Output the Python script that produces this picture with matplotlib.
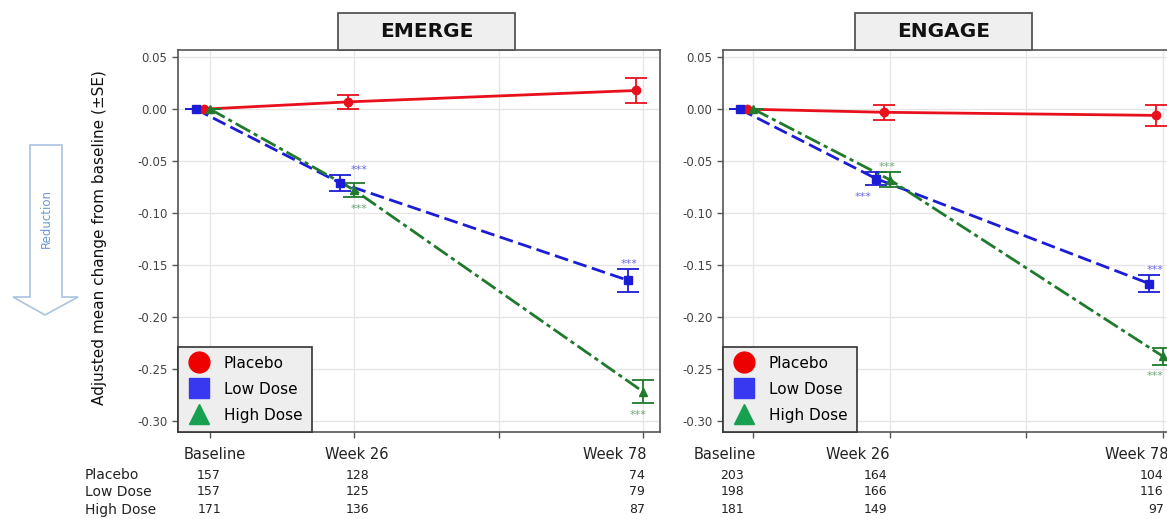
import matplotlib
matplotlib.use("Agg")
import matplotlib.pyplot as plt
from matplotlib.lines import Line2D
from matplotlib.patches import Rectangle, Polygon
import matplotlib.transforms as mtransforms

plt.rcParams["font.family"] = ["DejaVu Sans"]
plt.rcParams["axes.unicode_minus"] = False

# visits (weeks) and group labels
weeks = [0, 26, 78]
groups = ["Placebo", "Low Dose", "High Dose"]

# adjusted mean change from baseline and SE
emerge_mean = {
    "Placebo": [0.0, 0.007, 0.018],
    "Low Dose": [0.0, -0.071, -0.165],
    "High Dose": [0.0, -0.078, -0.272],
}
emerge_se = {
    "Placebo": [0.0, 0.007, 0.012],
    "Low Dose": [0.0, 0.008, 0.011],
    "High Dose": [0.0, 0.007, 0.011],
}
engage_mean = {
    "Placebo": [0.0, -0.003, -0.006],
    "Low Dose": [0.0, -0.067, -0.168],
    "High Dose": [0.0, -0.068, -0.238],
}
engage_se = {
    "Placebo": [0.0, 0.007, 0.010],
    "Low Dose": [0.0, 0.006, 0.008],
    "High Dose": [0.0, 0.007, 0.008],
}

# number of patients at each visit
emerge_n = {"Placebo": [157, 128, 74], "Low Dose": [157, 125, 79], "High Dose": [171, 136, 87]}
engage_n = {"Placebo": [203, 164, 104], "Low Dose": [198, 166, 116], "High Dose": [181, 149, 97]}

# significance markers: (group, visit index, above/below, x in weeks)
emerge_sig = [("Low Dose", 1, "above", 26.8), ("High Dose", 1, "below", 26.8),
              ("Low Dose", 2, "above", 75.6), ("High Dose", 2, "below", 77.2)]
engage_sig = [("High Dose", 1, "above", 25.4), ("Low Dose", 1, "below", 20.9),
              ("Low Dose", 2, "above", 76.5), ("High Dose", 2, "below", 76.5)]

style = {
    "Placebo": dict(color="#e8101c", ls="-", marker="o", dodge=-1.2),
    "Low Dose": dict(color="#1c1cd6", ls=(0, (5, 2)), marker="s", dodge=-2.6),
    "High Dose": dict(color="#1f7a2c", ls=(0, (6, 1.5, 1.5, 1.5)), marker="^", dodge=0.0),
}
legend_colors = {"Placebo": "#ee0000", "Low Dose": "#3838f0", "High Dose": "#16a050"}

W, H = 1167, 519
fig = plt.figure(figsize=(W / 100, H / 100), dpi=100)

ax1 = fig.add_axes([178 / W, (H - 432) / H, 482 / W, 382 / H])
ax2 = fig.add_axes([723 / W, (H - 432) / H, 456 / W, 382 / H])


def draw_panel(ax, means, ses, counts, sigs, title, box_x, cols):
    for g in groups:
        st = style[g]
        xs = [w + st["dodge"] for w in weeks]
        ax.plot(xs, means[g], color=st["color"], ls=st["ls"], lw=2.0, zorder=3)
        ax.errorbar(xs, means[g], yerr=ses[g], fmt=st["marker"], color=st["color"],
                    ms=6, capsize=8, elinewidth=1.3, capthick=1.3, zorder=4)

    for g, i, side, x in sigs:
        st = style[g]
        if side == "above":
            y = means[g][i] + ses[g][i]
            off, va = 0, "bottom"
        else:
            y = means[g][i] - ses[g][i]
            off, va = -5, "top"
        ax.annotate("***", (x, y), xytext=(0, off), textcoords="offset points",
                    ha="center", va=va, fontsize=8, color=st["color"], alpha=0.65)

    ax.set_xlim(-5.8, 81.1)
    ax.set_ylim(-0.311, 0.057)
    ax.set_yticks([0.05, 0.0, -0.05, -0.10, -0.15, -0.20, -0.25, -0.30])
    ax.set_yticklabels([f"{v:.2f}" for v in ax.get_yticks()])
    ax.set_xticks([0, 26, 52, 78])
    ax.set_xticklabels([])
    ax.grid(True, color="#e6e6e6", lw=1.0, zorder=0)
    ax.set_axisbelow(True)
    for sp in ax.spines.values():
        sp.set_color("#555555")
        sp.set_linewidth(1.2)
    ax.tick_params(colors="#555555", labelcolor="#444444", labelsize=8.5, length=4, width=1)

    handles = [Line2D([], [], ls="none", marker=style[g]["marker"], ms=15,
                      color=legend_colors[g], label=g) for g in groups]
    leg = ax.legend(handles=handles, loc="lower left", borderaxespad=0, fontsize=11,
                    frameon=True, fancybox=False, facecolor="#eeeeee", edgecolor="#333333",
                    framealpha=1, handletextpad=0.8, labelspacing=0.72, borderpad=0.6,
                    handlelength=1.6)
    leg.get_frame().set_linewidth(1.2)
    leg.set_zorder(5)

    # visit labels and numbers at risk under the axis
    trans = mtransforms.blended_transform_factory(ax.transData, ax.transAxes)
    labels = ["Baseline", "Week 26", "Week 78"]
    row_y = [-0.113, -0.157, -0.204]
    for j, (lab_x, lab_ha, n_x, n_ha) in enumerate(cols):
        ax.text(lab_x, -0.060, labels[j], transform=trans, ha=lab_ha, va="center",
                fontsize=10.5, color="#222222", clip_on=False)
        for r, g in enumerate(groups):
            ax.text(n_x, row_y[r], str(counts[g][j]), transform=trans, ha=n_ha,
                    va="center", fontsize=9, color="#222222", clip_on=False)

    # boxed panel title sitting on the top border
    fig.patches.append(Rectangle((box_x / W, (H - 50) / H), 177 / W, 37 / H,
                                 transform=fig.transFigure, facecolor="#efefef",
                                 edgecolor="#555555", lw=1.3, zorder=1))
    fig.text((box_x + 88.5) / W, (H - 31.5) / H, title, ha="center", va="center",
             fontsize=14.5, fontweight="bold", color="#111111")


draw_panel(ax1, emerge_mean, emerge_se, emerge_n, emerge_sig, "EMERGE", 338,
           [(0.8, "center", -0.2, "center"), (26.5, "center", 26.5, "center"),
            (78.7, "right", 78.4, "right")])
draw_panel(ax2, engage_mean, engage_se, engage_n, engage_sig, "ENGAGE", 855,
           [(-5.5, "center", -4.0, "center"), (19.9, "center", 23.3, "center"),
            (79.1, "right", 78.2, "right")])

# row labels for the numbers at risk
for r, g in enumerate(groups):
    fig.text(85 / W, (H - [475, 492, 510][r]) / H, g, ha="left", va="center",
             fontsize=10, color="#222222")

fig.text(100 / W, (H - 238) / H, "Adjusted mean change from baseline (\u00b1SE)",
         rotation=90, ha="center", va="center", fontsize=11, color="#111111")

# hollow "Reduction" arrow on the far left
arrow_px = [(30, 145), (62, 145), (62, 297), (78, 297), (45, 315), (13, 297), (30, 297)]
fig.patches.append(Polygon([(x / W, (H - y) / H) for x, y in arrow_px], closed=True,
                           transform=fig.transFigure, facecolor="white",
                           edgecolor="#a9c3e0", lw=1.2))
fig.text(46 / W, (H - 218) / H, "Reduction", rotation=90, ha="center", va="center",
         fontsize=8.5, color="#6b98cf")

fig.savefig("out.png", dpi=100)
